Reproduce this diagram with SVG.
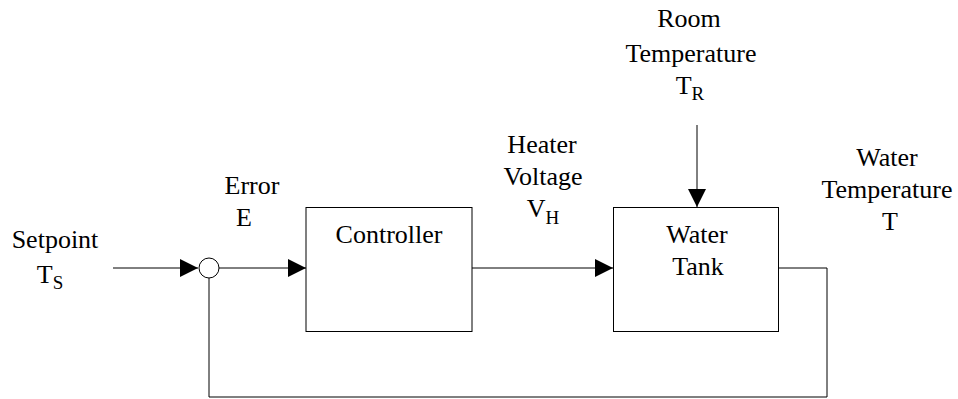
<svg xmlns="http://www.w3.org/2000/svg" width="958" height="399" viewBox="0 0 958 399" font-family="Liberation Serif, Times New Roman, serif" font-size="26">
<defs>
<style>
text{fill:#000;text-anchor:middle}
.sub{font-size:19px}
.box{fill:#fff;stroke:#000;stroke-width:1}
.ln{fill:none;stroke:#000;stroke-width:1}
</style>
<marker id="ah" markerUnits="userSpaceOnUse" markerWidth="18" markerHeight="18" refX="18" refY="9" orient="auto">
<path d="M0,0 L18,9 L0,18 Z" fill="#000"/>
</marker>
</defs>
<rect width="958" height="399" fill="#fff"/>
<g id="connectors">
<line class="ln" x1="113" y1="268" x2="198" y2="268" marker-end="url(#ah)"/>
<line class="ln" x1="219" y1="268" x2="306" y2="268" marker-end="url(#ah)"/>
<line class="ln" x1="472" y1="268" x2="613" y2="268" marker-end="url(#ah)"/>
<line class="ln" x1="697" y1="125" x2="697" y2="207" marker-end="url(#ah)"/>
<polyline class="ln" points="778,268 827,268 827,397 209,397 209,278"/>
</g>
<g id="sum"><circle class="box" cx="209" cy="268" r="10"/></g>
<g id="controller"><rect class="box" x="306" y="207.5" width="166" height="124"/><text x="389" y="243">Controller</text></g>
<g id="tank"><rect class="box" x="613.5" y="207.5" width="165" height="124"/><text x="697" y="243">Water</text><text x="698" y="275">Tank</text></g>
<g id="setpoint"><text x="55" y="248">Setpoint</text><text x="50" y="283">T<tspan class="sub" dy="6">S</tspan></text></g>
<g id="error"><text x="252" y="194">Error</text><text x="244" y="226">E</text></g>
<g id="heater"><text x="542" y="153">Heater</text><text x="543" y="185">Voltage</text><text x="543" y="217">V<tspan class="sub" dy="7">H</tspan></text></g>
<g id="room"><text x="689" y="27">Room</text><text x="691" y="62">Temperature</text><text x="690" y="94">T<tspan class="sub" dy="6">R</tspan></text></g>
<g id="water"><text x="887" y="166">Water</text><text x="887" y="198">Temperature</text><text x="890" y="230">T</text></g>
</svg>
